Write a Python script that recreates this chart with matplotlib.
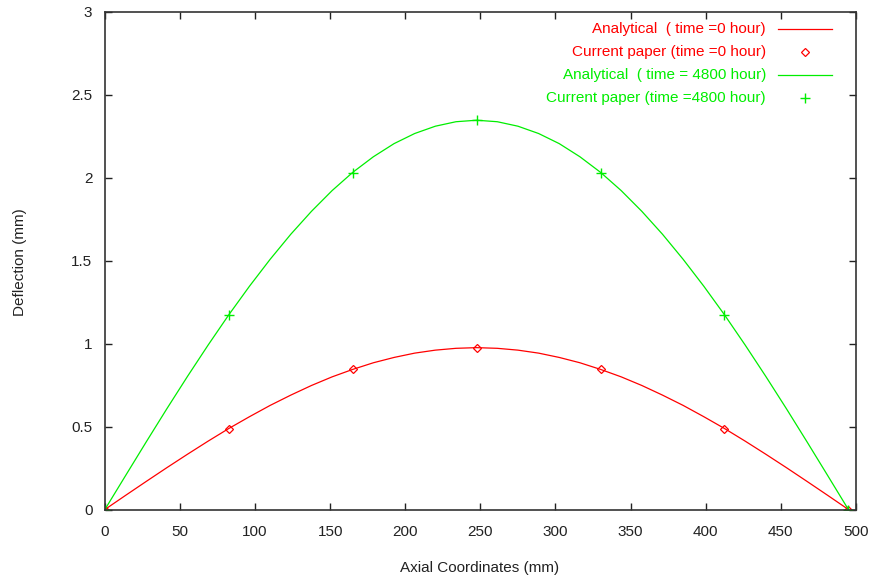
import matplotlib
matplotlib.use("Agg")
import matplotlib.pyplot as plt
from matplotlib.lines import Line2D

# Analytical curves
x_analytical = [0, 13.75, 27.5, 41.25, 55, 68.75, 82.5, 96.25, 110, 123.75,
                137.5, 151.25, 165, 178.75, 192.5, 206.25, 220, 233.75, 247.5,
                261.25, 275, 288.75, 302.5, 316.25, 330, 343.75, 357.5, 371.25,
                385, 398.75, 412.5, 426.25, 440, 453.75, 467.5, 481.25, 495]
y_analytical_0h = [0, 0.085, 0.169, 0.252, 0.333, 0.412, 0.488, 0.559, 0.627,
                   0.689, 0.747, 0.799, 0.844, 0.884, 0.916, 0.942, 0.960, 0.971,
                   0.975,
                   0.971, 0.960, 0.942, 0.916, 0.884, 0.844, 0.799, 0.747, 0.689,
                   0.627, 0.559, 0.488, 0.412, 0.333, 0.252, 0.169, 0.085, 0]
y_analytical_4800h = [0, 0.204, 0.407, 0.607, 0.802, 0.991, 1.173, 1.345, 1.507,
                      1.658, 1.796, 1.921, 2.031, 2.125, 2.204, 2.265, 2.309,
                      2.336, 2.345,
                      2.336, 2.309, 2.265, 2.204, 2.125, 2.031, 1.921, 1.796,
                      1.658, 1.507, 1.345, 1.173, 0.991, 0.802, 0.607, 0.407,
                      0.204, 0]

# Current paper points
x_paper = [0, 82.5, 165, 247.5, 330, 412.5, 495]
y_paper_0h = [0, 0.487, 0.845, 0.975, 0.845, 0.487, 0]
y_paper_4800h = [0, 1.17, 2.03, 2.345, 2.03, 1.17, 0]

labels = ["Analytical  ( time =0 hour)",
          "Current paper (time =0 hour)",
          "Analytical  ( time = 4800 hour)",
          "Current paper (time =4800 hour)"]

xticks = [0, 50, 100, 150, 200, 250, 300, 350, 400, 450, 500]
yticks = [0, 0.5, 1, 1.5, 2, 2.5, 3]
yticklabels = ["0", "0.5", "1", "1.5", "2", "2.5", "3"]

RED = "#ff0000"
GREEN = "#00ee00"
FONT = "Liberation Sans"
FS = 11
plt.rcParams['font.family'] = [FONT, 'DejaVu Sans']

fig = plt.figure(figsize=(8.7, 5.81), dpi=100)
ax = fig.add_axes([104.9/870, 1-509.5/581, 751/870, 498/581])

ax.plot(x_analytical, y_analytical_0h, color=RED, lw=0.9)
ax.plot(x_paper, y_paper_0h, linestyle='none', marker='D', markersize=4.2,
        markerfacecolor='none', markeredgecolor=RED, markeredgewidth=0.9)
ax.plot(x_analytical, y_analytical_4800h, color=GREEN, lw=0.9)
ax.plot(x_paper, y_paper_4800h, linestyle='none', marker='+', markersize=6.5,
        color=GREEN, markeredgewidth=1.0)

ax.set_xlim(0, 500)
ax.set_ylim(0, 3)
ax.set_xticks(xticks)
ax.set_xticklabels([str(t) for t in xticks])
ax.set_yticks(yticks)
ax.set_yticklabels(yticklabels)
ax.tick_params(direction='in', length=5, width=1, top=True, right=True,
               labelsize=FS, colors='#222222')
ax.tick_params(axis='x', pad=11)
ax.tick_params(axis='y', pad=9)
for s in ax.spines.values():
    s.set_linewidth(1.2)
    s.set_color('#333333')

fig.text(480/870, 1-568/581, "Axial Coordinates (mm)", ha='center', va='center',
         fontsize=FS, color='#222222')
fig.text(20/870, 1-262/581, "Deflection (mm)", ha='center', va='center',
         rotation=90, fontsize=FS, color='#222222')

# Legend (gnuplot style: right-aligned text, sample on the right)
colors = [RED, RED, GREEN, GREEN]
kinds = ['line', 'D', 'line', '+']
rows_px = [29, 52, 75, 98]
for lab, c, k, ypx in zip(labels, colors, kinds, rows_px):
    ya = (509.5 - ypx) / 498
    ax.text((766 - 104.9)/751, ya, lab, transform=ax.transAxes, ha='right',
            va='center', color=c, fontsize=FS)
    if k == 'line':
        ax.add_line(Line2D([(778-104.9)/751, (832-104.9)/751], [ya, ya],
                           transform=ax.transAxes, color=c, lw=0.9))
    elif k == 'D':
        ax.add_line(Line2D([(805-104.9)/751], [ya], transform=ax.transAxes,
                           marker='D', markersize=4.2, markerfacecolor='none',
                           markeredgecolor=c, markeredgewidth=0.9, linestyle='none'))
    else:
        ax.add_line(Line2D([(805-104.9)/751], [ya], transform=ax.transAxes,
                           marker='+', markersize=6.5, color=c,
                           markeredgewidth=1.0, linestyle='none'))

fig.savefig("out.png", dpi=100)
